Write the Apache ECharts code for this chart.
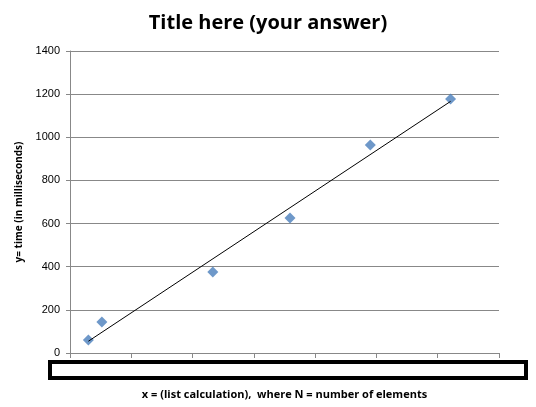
<!DOCTYPE html><html><head><meta charset="utf-8"><script src="https://cdn.jsdelivr.net/npm/echarts@6/dist/echarts.min.js"></script></head><body style="margin:0"><div id="c" style="width:536px;height:407px"></div><script>
var xValues=[0.3,0.52,2.33,3.59,4.9,6.21];
var yValues=[60,144,375,626,964,1178];
var pts=xValues.map(function(x,i){return [x,yValues[i]];});
var n=pts.length,sx=0,sy=0,sxx=0,sxy=0;
pts.forEach(function(p){sx+=p[0];sy+=p[1];sxx+=p[0]*p[0];sxy+=p[0]*p[1];});
var b=(n*sxy-sx*sy)/(n*sxx-sx*sx),a=(sy-b*sx)/n;
var x0=xValues[0],x1=xValues[n-1];
var ch=echarts.init(document.getElementById('c'));
ch.setOption({animation:false,
title:{text:'Title here (your answer)',left:'center',top:8,textStyle:{fontFamily:'Open Sans',fontSize:20,fontWeight:'bold',color:'#000'}},
grid:{left:70,right:37,top:51,bottom:54},
xAxis:{type:'value',min:0,max:7,interval:1,axisLabel:{show:false},splitLine:{show:false},axisLine:{lineStyle:{color:'#888'}},axisTick:{length:5,lineStyle:{color:'#888'}},
name:'x = (list calculation),  where N = number of elements',nameLocation:'middle',nameGap:36,nameTextStyle:{fontFamily:'Open Sans',fontSize:11,fontWeight:'bold',color:'#000'}},
yAxis:{type:'value',min:0,max:1400,interval:200,axisLine:{show:true,lineStyle:{color:'#888'}},axisTick:{show:true,length:4,lineStyle:{color:'#888'}},splitLine:{lineStyle:{color:'#888'}},axisLabel:{color:'#000',fontFamily:'Liberation Sans',fontSize:11,margin:10,formatter:function(v){return String(v);}},
name:'y= time (in milliseconds)',nameLocation:'middle',nameGap:46,nameTextStyle:{fontFamily:'Open Sans',fontSize:10,fontWeight:'bold',color:'#000'}},
series:[{type:'line',data:[[x0,a+b*x0],[x1,a+b*x1]],symbol:'none',lineStyle:{color:'#000',width:1}},
{type:'scatter',data:pts,symbol:'diamond',symbolSize:11,itemStyle:{color:'#4a7ebb'}}],
graphic:[{type:'rect',shape:{x:50,y:362,width:476,height:16},style:{fill:'#fff',stroke:'#000',lineWidth:4}}]
});
</script></body></html>
